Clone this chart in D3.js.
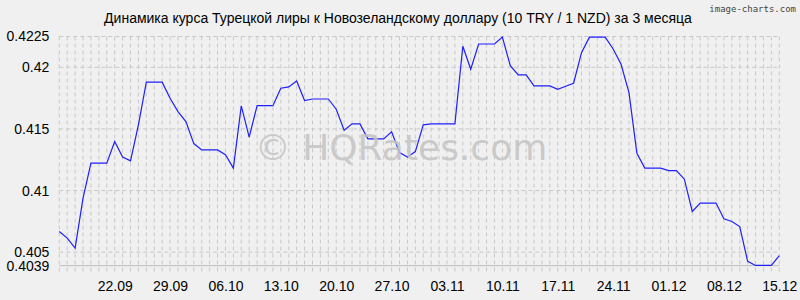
<!DOCTYPE html>
<html>
<head>
<meta charset="utf-8">
<script src="https://cdn.jsdelivr.net/npm/d3@7"></script>
<style>
  body { margin: 0; background: #f0f0f0; }
  svg { display: block; }
</style>
</head>
<body>
<div id="chart"></div>
<script>
// daily rate, 10 TRY / 1 NZD, from 15.09 to 15.12
var startDate = new Date(2023, 8, 15);
var rates = [
  0.40668, 0.40614, 0.40533, 0.40939, 0.41222, 0.41222, 0.41222, 0.41398, 0.41271, 0.41241,
  0.41533, 0.41879, 0.41879, 0.41879, 0.41749, 0.41640, 0.41560, 0.41381, 0.41330, 0.41330,
  0.41330, 0.41290, 0.41182, 0.41687, 0.41433, 0.41689, 0.41689, 0.41689, 0.41830, 0.41841,
  0.41889, 0.41730, 0.41743, 0.41743, 0.41743, 0.41660, 0.41490, 0.41541, 0.41541, 0.41419,
  0.41419, 0.41419, 0.41476, 0.41308, 0.41271, 0.41316, 0.41533, 0.41541, 0.41541, 0.41541,
  0.41541, 0.42171, 0.41984, 0.42189, 0.42189, 0.42189, 0.42246, 0.42013, 0.41938, 0.41938,
  0.41849, 0.41849, 0.41849, 0.41822, 0.41846, 0.41871, 0.42119, 0.42245, 0.42245, 0.42245,
  0.42149, 0.42025, 0.41795, 0.41303, 0.41182, 0.41182, 0.41182, 0.41162, 0.41162, 0.41092,
  0.40830, 0.40898, 0.40898, 0.40898, 0.40771, 0.40749, 0.40708, 0.40425, 0.40392, 0.40392,
  0.40392, 0.40471
];
var xLabels = ['22.09', '29.09', '06.10', '13.10', '20.10', '27.10', '03.11', '10.11', '17.11', '24.11', '01.12', '08.12', '15.12'];
var yTicks = [0.4039, 0.405, 0.41, 0.415, 0.42, 0.4225];
var title = 'Динамика курса Турецкой лиры к Новозеландскому доллару (10 TRY / 1 NZD) за 3 месяца';

var width = 800, height = 300;
var margins = {left: 59.3, right: 20.7, top: 36.5, bottom: 34.3};
var innerW = width - margins.left - margins.right;
var innerH = height - margins.top - margins.bottom;

var data = rates.map(function(v, i) {
  return {date: d3.timeDay.offset(startDate, i), value: v};
});

var x = d3.scaleTime()
          .domain(d3.extent(data, function(d) { return d.date; }))
          .range([0, innerW]);
var y = d3.scaleLinear()
          .domain([yTicks[0], yTicks[yTicks.length - 1]])
          .range([innerH, 0]);

var parseLabel = function(s) {
  var p = s.split('.');
  return new Date(2023, +p[1] - 1, +p[0]);
};

var svg = d3.select('#chart').append('svg')
            .attr('width', width)
            .attr('height', height)
            .style('font-family', '"Liberation Sans", Arial, sans-serif');

svg.append('rect').attr('width', width).attr('height', height).attr('fill', '#f0f0f0');

svg.append('text')
   .attr('x', 398)
   .attr('y', 23)
   .attr('text-anchor', 'middle')
   .attr('font-size', '14px')
   .attr('fill', '#000')
   .text(title);

svg.append('text')
   .attr('x', 796)
   .attr('y', 12)
   .attr('text-anchor', 'end')
   .attr('font-size', '9px')
   .attr('font-family', '"DejaVu Sans Mono", monospace')
   .attr('fill', '#444')
   .text('image-charts.com');

var g = svg.append('g')
           .attr('transform', 'translate(' + margins.left + ',' + margins.top + ')');

// vertical grid, one line per day
g.append('g').attr('class', 'vgrid')
 .selectAll('line').data(data)
 .enter().append('line')
 .attr('x1', function(d) { return x(d.date); })
 .attr('x2', function(d) { return x(d.date); })
 .attr('y1', 0)
 .attr('y2', innerH + 9)
 .attr('stroke', '#c8c8c8')
 .attr('stroke-dasharray', '4,3');

// horizontal grid
g.append('g').attr('class', 'hgrid')
 .selectAll('line').data(yTicks.slice(1))
 .enter().append('line')
 .attr('x1', 0)
 .attr('x2', innerW)
 .attr('y1', function(d) { return y(d); })
 .attr('y2', function(d) { return y(d); })
 .attr('stroke', '#c8c8c8')
 .attr('stroke-dasharray', '4,3');

g.append('line')
 .attr('x1', 0).attr('x2', innerW)
 .attr('y1', innerH).attr('y2', innerH)
 .attr('stroke', '#bdbdbd');

// watermark
svg.append('text')
   .attr('x', 401)
   .attr('y', 160)
   .attr('text-anchor', 'middle')
   .attr('font-size', '36px')
   .attr('font-family', '"DejaVu Sans", sans-serif')
   .attr('fill', '#c4c4c4')
   .attr('fill-opacity', 0.85)
   .text('© HQRates.com');

// axes
var yAxis = d3.axisLeft(y)
              .tickValues(yTicks)
              .tickSize(0)
              .tickPadding(10)
              .tickFormat(function(d) { return String(d); });
var xAxis = d3.axisBottom(x)
              .tickValues(xLabels.map(parseLabel))
              .tickSize(0)
              .tickPadding(15)
              .tickFormat(d3.timeFormat('%d.%m'));

g.append('g').attr('class', 'yaxis').call(yAxis);
g.append('g').attr('class', 'xaxis')
 .attr('transform', 'translate(0,' + innerH + ')')
 .call(xAxis);

g.selectAll('.yaxis path, .xaxis path').remove();
g.selectAll('.yaxis text, .xaxis text')
 .attr('font-size', '14px')
 .attr('font-family', '"Liberation Sans", Arial, sans-serif')
 .attr('fill', '#000');

var line = d3.line()
             .x(function(d) { return x(d.date); })
             .y(function(d) { return y(d.value); });

g.append('path')
 .datum(data)
 .attr('d', line)
 .attr('fill', 'none')
 .attr('stroke', '#1f1fff')
 .attr('stroke-width', 1.2);
</script>
</body>
</html>
